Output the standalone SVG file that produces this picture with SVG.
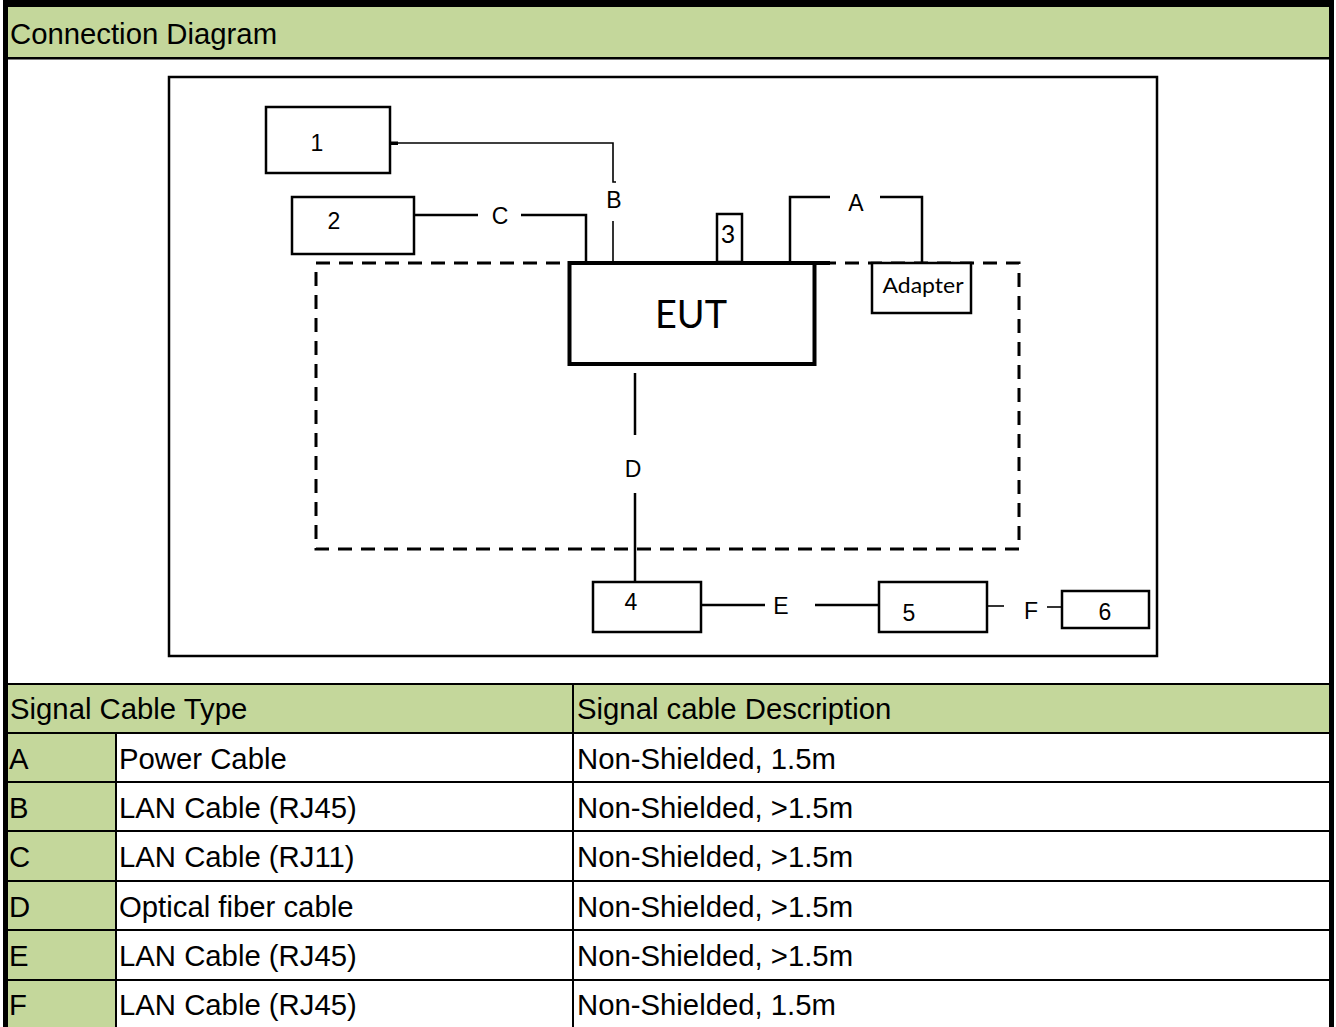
<svg xmlns="http://www.w3.org/2000/svg" width="1336" height="1027" viewBox="0 0 1336 1027">
<style>
.g{fill:#C4D79B}
.t{font-family:"Liberation Sans",Arial,sans-serif;font-size:29.3px;fill:#000}
.box{fill:#fff;stroke:#000;stroke-width:2.5}
.ln{fill:none;stroke:#000;stroke-width:2.5}
.thin{fill:none;stroke:#000;stroke-width:1.6}
.lbl{font-family:"Liberation Sans",Arial,sans-serif;font-size:23px;fill:#000;text-anchor:middle}
.cal{font-family:Lato,"Liberation Sans",sans-serif;fill:#000;text-anchor:middle}
.grid{stroke:#000;stroke-width:2}
</style>
<rect x="0" y="0" width="1336" height="1027" fill="#fff"/>
<!-- header -->
<g id="header">
<rect class="g" x="8" y="7" width="1321" height="50"/>
<text class="t" x="10" y="44">Connection Diagram</text>
</g>
<!-- outer borders -->
<g id="frame">
<rect x="3" y="0" width="1331" height="7" fill="#000"/>
<rect x="3" y="0" width="5" height="1027" fill="#000"/>
<rect x="1329" y="0" width="5" height="1027" fill="#000"/>
<rect x="3" y="57" width="1331" height="2.5" fill="#000"/>
</g>
<!-- diagram frame -->
<rect id="diagram-frame" x="169" y="77" width="988" height="579" fill="none" stroke="#000" stroke-width="2.5"/>
<!-- dashed enclosure -->
<path id="enclosure" d="M316,263 H1019 V549 H316 Z" fill="none" stroke="#000" stroke-width="3" stroke-dasharray="14 9"/>
<g id="connectors">
<!-- B -->
<rect x="390" y="141.5" width="8" height="3.5" fill="#000"/>
<path class="thin" d="M398,143 H613 V182 H616"/>
<path class="thin" d="M613,221 V263"/>
<!-- C -->
<path class="ln" d="M414,215 H478"/>
<path class="ln" d="M521,215 H586 V263"/>
<!-- A -->
<path class="ln" d="M790,263 V197 H830"/>
<path class="ln" d="M880,197 H922 V263"/>
<!-- D -->
<path class="ln" d="M635,373 V435"/>
<path class="ln" d="M635,493 V582"/>
<!-- E -->
<path class="ln" d="M701,605 H765"/>
<path class="ln" d="M815,605 H879"/>
<!-- F -->
<path class="thin" d="M988,606 H1004"/>
<path class="thin" d="M1047,607 H1062"/>
<!-- EUT top extension -->
<path d="M568,263 H830" stroke="#000" stroke-width="4" fill="none"/>
</g>
<g id="labels">
<text class="lbl" x="614" y="208" font-size="22">B</text>
<text class="lbl" x="500" y="224" font-size="24">C</text>
<text class="lbl" x="856" y="211" font-size="21">A</text>
<text class="lbl" x="633" y="477" font-size="25">D</text>
<text class="lbl" x="781" y="614" font-size="24">E</text>
<text class="lbl" x="1031" y="619" font-size="24">F</text>
</g>
<g id="node1"><rect class="box" x="266" y="107" width="124" height="66"/><text class="lbl" x="317" y="151" font-size="26">1</text></g>
<g id="node2"><rect class="box" x="292" y="197" width="122" height="57"/><text class="lbl" x="334" y="229" font-size="24">2</text></g>
<g id="node3"><rect class="box" x="717" y="214" width="25" height="48"/><text class="cal" x="728" y="243" font-size="25">3</text></g>
<g id="eut"><rect x="569.5" y="263" width="245" height="101" fill="#fff" stroke="#000" stroke-width="4"/><text class="cal" x="691" y="328" font-size="39" textLength="72" lengthAdjust="spacingAndGlyphs">EUT</text></g>
<g id="adapter"><rect class="box" x="872" y="263" width="99" height="50"/><text class="cal" x="923" y="293" font-size="21" textLength="81" lengthAdjust="spacingAndGlyphs">Adapter</text></g>
<g id="node4"><rect class="box" x="593" y="582" width="108" height="50" stroke-width="3"/><text class="lbl" x="631" y="610" font-size="26">4</text></g>
<g id="node5"><rect class="box" x="879" y="582" width="108" height="50" stroke-width="3"/><text class="lbl" x="909" y="621" font-size="26">5</text></g>
<g id="node6"><rect class="box" x="1062" y="591" width="87" height="37" stroke-width="1.8"/><text class="lbl" x="1105" y="620" font-size="26">6</text></g>
<!-- table -->
<g id="table">
<rect class="g" x="8" y="685" width="1321" height="47"/>
<rect class="g" x="8" y="733" width="108" height="294"/>
<g class="grid">
<line x1="8" y1="684" x2="1329" y2="684"/>
<line x1="8" y1="733" x2="1329" y2="733"/>
<line x1="8" y1="782" x2="1329" y2="782"/>
<line x1="8" y1="831" x2="1329" y2="831"/>
<line x1="8" y1="881" x2="1329" y2="881"/>
<line x1="8" y1="930" x2="1329" y2="930"/>
<line x1="8" y1="980" x2="1329" y2="980"/>
<line x1="573" y1="684" x2="573" y2="1027"/>
<line x1="116" y1="733" x2="116" y2="1027"/>
</g>
<text class="t" x="10" y="719">Signal Cable Type</text>
<text class="t" x="577" y="719">Signal cable Description</text>
<text class="t" x="9" y="769">A</text>
<text class="t" x="119" y="769">Power Cable</text>
<text class="t" x="577" y="769">Non-Shielded, 1.5m</text>
<text class="t" x="9" y="818">B</text>
<text class="t" x="119" y="818">LAN Cable (RJ45)</text>
<text class="t" x="577" y="818">Non-Shielded, &gt;1.5m</text>
<text class="t" x="9" y="867">C</text>
<text class="t" x="119" y="867">LAN Cable (RJ11)</text>
<text class="t" x="577" y="867">Non-Shielded, &gt;1.5m</text>
<text class="t" x="9" y="917">D</text>
<text class="t" x="119" y="917">Optical fiber cable</text>
<text class="t" x="577" y="917">Non-Shielded, &gt;1.5m</text>
<text class="t" x="9" y="966">E</text>
<text class="t" x="119" y="966">LAN Cable (RJ45)</text>
<text class="t" x="577" y="966">Non-Shielded, &gt;1.5m</text>
<text class="t" x="9" y="1015">F</text>
<text class="t" x="119" y="1015">LAN Cable (RJ45)</text>
<text class="t" x="577" y="1015">Non-Shielded, 1.5m</text>
</g>
</svg>
